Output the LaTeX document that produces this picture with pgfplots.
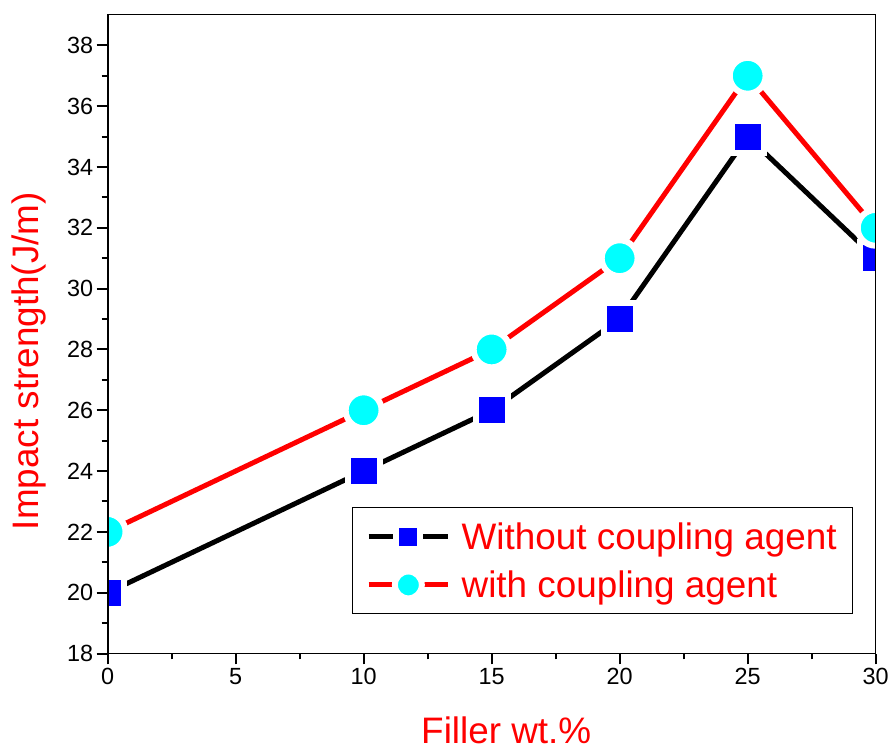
\documentclass[border=0pt]{standalone}
\usepackage{pgfplots}
\pgfplotsset{compat=1.18}
\usepackage{fontspec}
\setmainfont{Liberation Sans}
\definecolor{mycyan}{RGB}{0,255,255}
\definecolor{myblue}{RGB}{0,0,255}
\definecolor{myred}{RGB}{255,0,0}
\begin{document}
\begin{tikzpicture}
\begin{axis}[
  scale only axis,
  width=771pt, height=641pt,
  xmin=0, xmax=30, ymin=18, ymax=39,
  xtick={0,5,...,30}, ytick={18,20,...,38},
  minor x tick num=1, minor y tick num=1,
  xtick pos=bottom, ytick pos=left,
  tick align=outside,
  major tick length=11pt, minor tick length=6pt,
  every tick/.style={black, line width=2pt},
  axis line style={line width=1pt},
  axis on top,
  clip marker paths=true,
  /pgf/number format/assume math mode=true,
  tick label style={font=\fontsize{23.5}{27}\selectfont},
  xlabel={Filler wt.\%}, ylabel={Impact strength(J/m)},
  label style={font=\fontsize{37}{44}\selectfont, text=myred},
  xlabel style={at={(axis description cs:0.519,-0.141)}, anchor=base},
  ylabel style={at={(axis description cs:-0.1025,0.458)}, anchor=center},
  legend image code/.code={\draw[mark repeat=2,mark phase=2,#1,every mark/.append style={scale=0.75}] plot coordinates {(0pt,0pt) (40pt,0pt) (80pt,0pt)};},
  legend style={at={(axis cs:9.53,22.81)}, anchor=north west, draw=black, line width=1pt,
    font=\fontsize{37}{44}\selectfont, text=myred, inner xsep=14pt, inner ysep=13pt,
    row sep=16pt, column sep=9pt,
    cells={anchor=west}},
]
\addplot[black, line width=5pt, mark=square*, mark size=16pt,
  mark options={fill=myblue, draw=white, line width=6pt}]
  coordinates {(0,20) (10,24) (15,26) (20,29) (25,35) (30,31)};
\addlegendentry{Without coupling agent}
\addplot[myred, line width=5pt, mark=*, mark size=18pt,
  mark options={fill=mycyan, draw=white, line width=6pt}]
  coordinates {(0,22) (10,26) (15,28) (20,31) (25,37) (30,32)};
\addlegendentry{with coupling agent}
\draw[black, line width=2pt] (rel axis cs:0,0) -- (rel axis cs:0,1);
\draw[black, line width=2pt] (rel axis cs:0,0) -- (rel axis cs:1,0);
\draw[gray, line width=1.2pt] (rel axis cs:1,0) -- (rel axis cs:1,1);
\end{axis}
\useasboundingbox (-108pt,-97pt) rectangle (784pt,656pt);
\end{tikzpicture}
\end{document}
